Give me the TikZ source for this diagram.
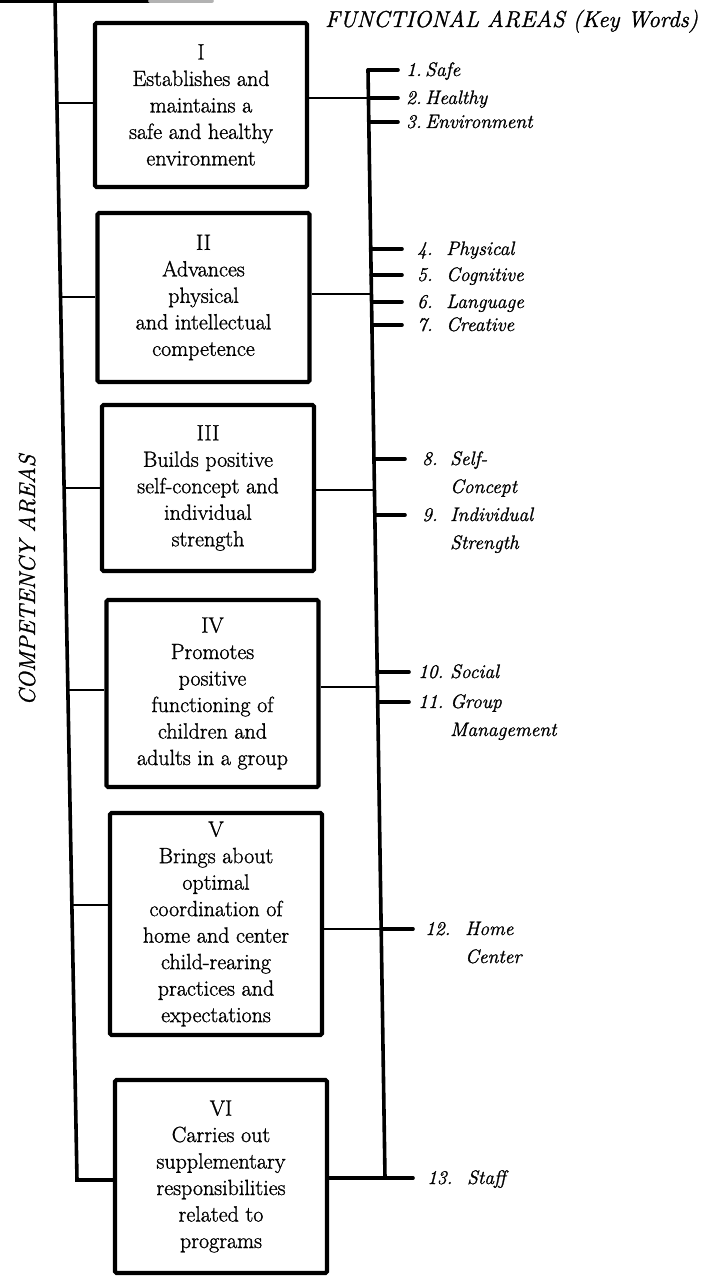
\documentclass[tikz,border=0pt]{standalone}
\usepackage{fontspec}
\usepackage{tikz}
\usetikzlibrary{positioning}
\newfontfamily\scanfont[FakeBold=1.2]{Latin Modern Roman}
\newcommand{\kw}[3]{\begin{tabular}[t]{@{}l@{}l@{}}\makebox[#1][l]{#2}&#3\end{tabular}}

\tikzset{
  compbox/.style={draw, line width=4.2pt, rounded corners=1.5pt, align=center, inner sep=0pt,
    minimum width=212pt, font=\scanfont\fontsize{22}{26.5}\selectfont},
  spine/.style={line width=3.6pt, line cap=round},
  branch/.style={line width=2.6pt},
  keytick/.style={line width=3.6pt, line cap=round, shorten >=#1},
  keytick/.default=8pt,
  keyword/.style={anchor=base west, inner sep=0pt, font=\scanfont\fontsize{19.5}{28}\selectfont\itshape},
  heading/.style={inner sep=0pt, font=\scanfont\fontsize{23}{26}\selectfont\itshape}
}

\begin{document}
\begin{tikzpicture}[x=1pt,y=-1pt]
\useasboundingbox (0,0) rectangle (705,1276);

% titles
\node[heading, anchor=base west] (functional) at (325,27) {FUNCTIONAL AREAS (Key Words)};
\node[heading, rotate=90] (competency) at (27,580) {COMPETENCY AREAS};

% competency boxes
\node[compbox, minimum height=164pt] (boxI) at (201,105)
  {I\\Establishes and\\maintains a\\safe and healthy\\environment};
\node[compbox, minimum height=169pt] (boxII) at (203.5,297.5)
  {II\\Advances\\physical\\and intellectual\\competence};
\node[compbox, minimum height=166pt] (boxIII) at (208,488)
  {III\\Builds positive\\self-concept and\\individual\\strength};
\node[compbox, minimum height=187pt] (boxIV) at (212.5,693.5)
  {IV\\Promotes\\positive\\functioning of\\children and\\adults in a group};
\node[compbox, minimum height=222pt] (boxV) at (216,924)
  {V\\Brings about\\optimal\\coordination of\\home and center\\child-rearing\\practices and\\expectations};
\node[compbox, minimum height=193pt] (boxVI) at (221,1176.5)
  {VI\\Carries out\\supplementary\\responsibilities\\related to\\programs};

% left spine
\coordinate (ltop) at (55,0);
\coordinate (lI) at (56.9,103);
\coordinate (lII) at (60.5,297);
\coordinate (lIII) at (64.1,488);
\coordinate (lIV) at (67.9,690);
\coordinate (lV) at (71.9,905);
\coordinate (lVI) at (77,1180);
\draw[spine] (0,1) -- (150,1);
\draw[spine, black!30] (150,1) -- (212,1);
\draw[spine] (ltop) -- (lVI) -- (boxVI.west |- lVI);
\draw[branch] (lI) -- (boxI.west |- lI);
\draw[branch] (lII) -- (boxII.west |- lII);
\draw[branch] (lIII) -- (boxIII.west |- lIII);
\draw[branch] (lIV) -- (boxIV.west |- lIV);
\draw[branch] (lV) -- (boxV.west |- lV);

% right spine
\coordinate (r1) at (368,70);
\coordinate (r2) at (368.4,98);
\coordinate (r3) at (368.8,122);
\coordinate (r4) at (370.7,249);
\coordinate (r5) at (371.1,275);
\coordinate (rII) at (371.4,294);
\coordinate (r6) at (371.6,302);
\coordinate (r7) at (371.9,325);
\coordinate (r8) at (374,459);
\coordinate (rIII) at (374.4,490);
\coordinate (r9) at (374.8,515);
\coordinate (r10) at (377.2,672);
\coordinate (rIV) at (377.5,687);
\coordinate (r11) at (377.7,702);
\coordinate (r12) at (381.2,929);
\coordinate (r13) at (385,1178);
\draw[spine] (r1) -- (r13);
\draw[branch] (boxI.east |- r2) -- (r2);
\draw[branch] (boxII.east |- rII) -- (rII);
\draw[branch] (boxIII.east |- rIII) -- (rIII);
\draw[branch] (boxIV.east |- rIV) -- (rIV);
\draw[branch] (boxV.east |- r12) -- (r12);
\draw[spine] (boxVI.east |- r13) -- (r13);

% functional areas
\node[keyword] (kw1) at (406,76) {\kw{19pt}{1.}{Safe}};
\node[keyword] (kw2) at (406,104) {\kw{19pt}{2.}{Healthy}};
\node[keyword] (kw3) at (406,128) {\kw{19pt}{3.}{Environment}};
\node[keyword] (kw4) at (417,255) {\kw{29pt}{4.}{Physical}};
\node[keyword] (kw5) at (417,281) {\kw{29pt}{5.}{Cognitive}};
\node[keyword] (kw6) at (417,308) {\kw{29pt}{6.}{Language}};
\node[keyword] (kw7) at (417,331) {\kw{29pt}{7.}{Creative}};
\node[keyword] (kw8) at (422,465) {\kw{28pt}{8.}{Self-\\&Concept}};
\node[keyword] (kw9) at (422,521) {\kw{28pt}{9.}{Individual\\&Strength}};
\node[keyword] (kw10) at (418,678) {\kw{32pt}{10.}{Social}};
\node[keyword] (kw11) at (418,708) {\kw{32pt}{11.}{Group\\&Management}};
\node[keyword] (kw12) at (425,935) {\kw{40pt}{12.}{Home\\&Center}};
\node[keyword] (kw13) at (427,1184) {\kw{40pt}{13.}{Staff}};

\draw[keytick] (r1) -- (r1 -| kw1.west);
\draw[keytick] (r2) -- (r2 -| kw2.west);
\draw[keytick] (r3) -- (r3 -| kw3.west);
\draw[keytick=15pt] (r4) -- (r4 -| kw4.west);
\draw[keytick=15pt] (r5) -- (r5 -| kw5.west);
\draw[keytick=15pt] (r6) -- (r6 -| kw6.west);
\draw[keytick=15pt] (r7) -- (r7 -| kw7.west);
\draw[keytick=17pt] (r8) -- (r8 -| kw8.west);
\draw[keytick=17pt] (r9) -- (r9 -| kw9.west);
\draw[keytick=9pt] (r10) -- (r10 -| kw10.west);
\draw[keytick=9pt] (r11) -- (r11 -| kw11.west);
\draw[keytick=12pt] (r12) -- (r12 -| kw12.west);
\draw[keytick=14pt] (r13) -- (r13 -| kw13.west);
\end{tikzpicture}
\end{document}
